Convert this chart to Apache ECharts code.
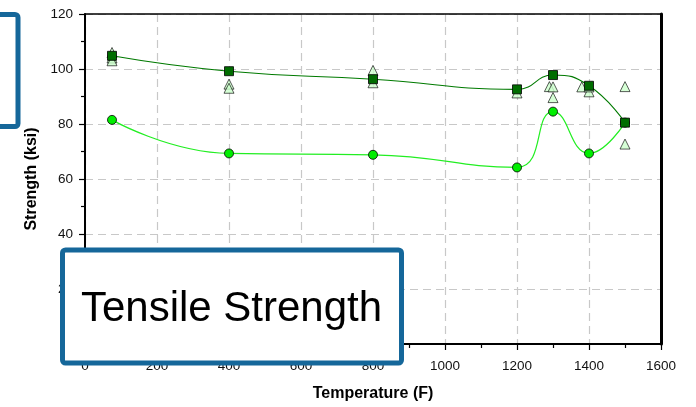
<!DOCTYPE html>
<html>
<head>
<meta charset="utf-8">
<script src="https://cdn.jsdelivr.net/npm/echarts@6/dist/echarts.min.js"></script>
<style>
html,body{margin:0;padding:0;background:#fff;}
#chart{width:696px;height:407px;}
</style>
</head>
<body>
<div id="chart"></div>
<script>
// ---- data ----
const temps = [75, 400, 800, 1200, 1300, 1400, 1500];
const ultimateAvg = [104.8, 99.2, 96.3, 92.6, 97.8, 93.9, 80.5];
const yieldAvg = [81.5, 69.3, 68.8, 64.2, 84.5, 69.3, 80.5];
const testTemps = [75, 75, 75, 400, 400, 800, 800, 1200, 1290, 1300, 1300, 1380, 1400, 1400, 1500, 1500];
const testValues = [106, 104, 103, 94.5, 93, 99.5, 95, 91.3, 93.6, 93.5, 89.6, 93.5, 91.7, 93.5, 93.6, 72.7];
const xTicks = { min: 0, max: 1600, interval: 200 };
const yTicks = { min: 0, max: 120, interval: 20 };
const xTitle = 'Temperature (F)';
const yTitle = 'Strength (ksi)';
const boxTitle = 'Tensile Strength';

const pair = (xs, ys) => xs.map((x, i) => [x, ys[i]]);
const FONT = 'Liberation Sans, Arial, sans-serif';
const BLUE = '#15679a';

const chart = echarts.init(document.getElementById('chart'), null, { renderer: 'canvas' });

const gridDash = { show: true, lineStyle: { color: '#c8c8c8', width: 1.2, type: [8, 5] } };
const plain = v => String(v);

chart.setOption({
  animation: false,
  backgroundColor: '#fff',
  grid: { left: 85, right: 35, top: 14, bottom: 63, outerBoundsMode: 'none', containLabel: false },
  xAxis: [
    {
      type: 'value', min: xTicks.min, max: xTicks.max, interval: xTicks.interval,
      axisLine: { show: true, onZero: false, lineStyle: { color: '#000', width: 2 } },
      axisTick: { show: true, inside: false, length: 6, lineStyle: { color: '#000', width: 1.2 } },
      minorTick: { show: true, splitNumber: 2, length: 4, lineStyle: { color: '#000', width: 1.2 } },
      axisLabel: { color: '#111', fontSize: 13.5, fontFamily: FONT, margin: 15, formatter: plain },
      splitLine: gridDash,
      name: xTitle, nameLocation: 'middle', nameGap: 42,
      nameTextStyle: { color: '#000', fontSize: 16, fontWeight: 'bold', fontFamily: FONT }
    },
    {
      type: 'value', position: 'top', min: xTicks.min, max: xTicks.max, interval: xTicks.interval,
      axisLine: { show: true, onZero: false, lineStyle: { color: '#000', width: 1.5 } },
      axisTick: { show: false }, axisLabel: { show: false }, splitLine: { show: false }
    }
  ],
  yAxis: [
    {
      type: 'value', min: yTicks.min, max: yTicks.max, interval: yTicks.interval,
      axisLine: { show: true, onZero: false, lineStyle: { color: '#000', width: 2 } },
      axisTick: { show: true, inside: false, length: 6, lineStyle: { color: '#000', width: 1.2 } },
      minorTick: { show: true, splitNumber: 2, length: 4, lineStyle: { color: '#000', width: 1.2 } },
      axisLabel: { color: '#111', fontSize: 13.5, fontFamily: FONT, margin: 12, formatter: plain },
      splitLine: gridDash,
      name: yTitle, nameLocation: 'middle', nameGap: 44, nameRotate: 90,
      nameTextStyle: { color: '#000', fontSize: 16, fontWeight: 'bold', fontFamily: FONT }
    },
    {
      type: 'value', position: 'right', min: yTicks.min, max: yTicks.max, interval: yTicks.interval,
      axisLine: { show: true, onZero: false, lineStyle: { color: '#000', width: 3 } },
      axisTick: { show: false }, axisLabel: { show: false }, splitLine: { show: false }
    }
  ],
  series: [
    {
      name: 'Tests', type: 'scatter', data: pair(testTemps, testValues),
      symbol: 'triangle', symbolSize: [10, 10],
      itemStyle: { color: '#ccffcc', borderColor: '#000', borderWidth: 0.8 }, z: 2
    },
    {
      name: 'Yield', type: 'line', data: pair(temps, yieldAvg), smooth: 0.5,
      symbol: 'circle', symbolSize: 9, showSymbol: true,
      lineStyle: { color: '#22ee22', width: 1.2 },
      itemStyle: { color: '#00ee00', borderColor: '#000', borderWidth: 0.8 }, z: 3
    },
    {
      name: 'Ultimate', type: 'line', data: pair(temps, ultimateAvg), smooth: 0.5,
      symbol: 'rect', symbolSize: 9, showSymbol: true,
      lineStyle: { color: '#007a00', width: 1.1 },
      itemStyle: { color: '#006d00', borderColor: '#000', borderWidth: 0.8 }, z: 4
    }
  ],
  graphic: [
    {
      type: 'rect', z: 100,
      shape: { x: -10, y: 14.5, width: 28, height: 112, r: 3 },
      style: { fill: '#fff', stroke: BLUE, lineWidth: 5 }
    },
    {
      type: 'group', z: 100,
      children: [
        {
          type: 'rect', z: 100,
          shape: { x: 62.5, y: 250, width: 339, height: 113, r: 3 },
          style: { fill: '#fff', stroke: BLUE, lineWidth: 5 }
        },
        {
          type: 'text', z: 101, x: 231.5, y: 309,
          style: { text: boxTitle, fill: '#000', font: '42px ' + FONT, textAlign: 'center', textVerticalAlign: 'middle' }
        }
      ]
    }
  ]
});
</script>
</body>
</html>
